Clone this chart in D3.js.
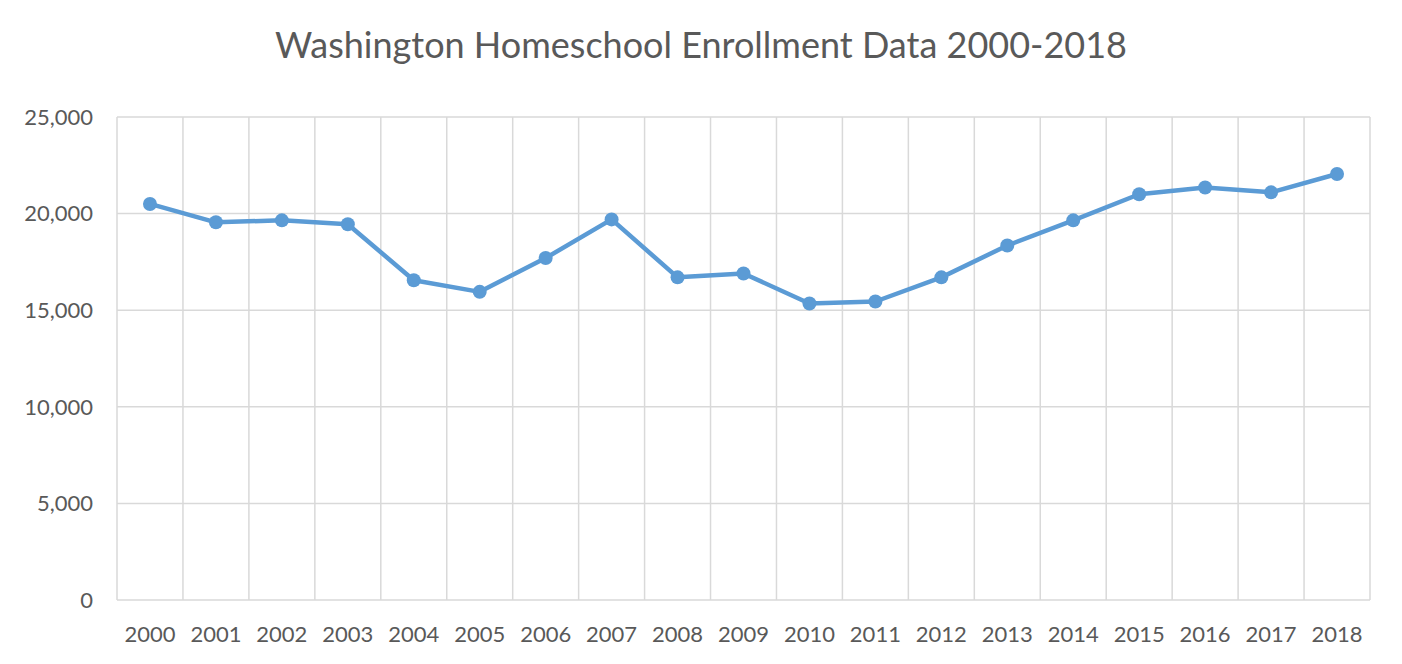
<!DOCTYPE html>
<html>
<head>
<meta charset="utf-8">
<script src="https://cdn.jsdelivr.net/npm/d3@7"></script>
<style>
  body { margin: 0; background: #fff; }
  text { font-family: Lato, "Open Sans", sans-serif; fill: #595959; }
</style>
</head>
<body>
<svg id="chart" width="1402" height="664"></svg>
<script>
  var years = ['2000','2001','2002','2003','2004','2005','2006','2007','2008','2009',
               '2010','2011','2012','2013','2014','2015','2016','2017','2018'];
  var enrollment = [20500, 19550, 19650, 19450, 16550, 15950, 17700, 19700, 16700, 16900,
                    15350, 15450, 16700, 18350, 19650, 21000, 21350, 21100, 22050];
  var yTicks = [0, 5000, 10000, 15000, 20000, 25000];

  var svg = d3.select('#chart');
  var m = {left: 117, right: 32, top: 117, bottom: 64};
  var w = 1402 - m.left - m.right, h = 664 - m.top - m.bottom;

  var x = d3.scaleBand().domain(years).range([0, w]);
  var y = d3.scaleLinear().domain([0, 25000]).range([h, 0]);

  svg.append('text').attr('x', 701).attr('y', 58).attr('text-anchor', 'middle')
    .style('font-size', '36px').text('Washington Homeschool  Enrollment Data 2000-2018');

  var g = svg.append('g').attr('transform', 'translate(' + m.left + ',' + m.top + ')');

  // grid
  g.selectAll('.hg').data(yTicks).enter().append('line')
    .attr('x1', 0).attr('x2', w).attr('y1', y).attr('y2', y)
    .attr('stroke', '#d9d9d9').attr('stroke-width', 1.5);
  g.selectAll('.vg').data(years.concat(['end'])).enter().append('line')
    .attr('x1', function (d, i) { return i * x.bandwidth(); })
    .attr('x2', function (d, i) { return i * x.bandwidth(); })
    .attr('y1', 0).attr('y2', h)
    .attr('stroke', '#d9d9d9').attr('stroke-width', 1.5);

  // axes labels
  g.selectAll('.yl').data(yTicks).enter().append('text')
    .attr('x', -24).attr('y', y).attr('dy', '0.35em').attr('text-anchor', 'end')
    .style('font-size', '22px').text(d3.format(','));
  g.selectAll('.xl').data(years).enter().append('text')
    .attr('x', function (d) { return x(d) + x.bandwidth() / 2; })
    .attr('y', h + 42).attr('text-anchor', 'middle')
    .style('font-size', '22px').text(function (d) { return d; });

  var line = d3.line()
    .x(function (d, i) { return x(years[i]) + x.bandwidth() / 2; })
    .y(function (d) { return y(d); });

  g.append('path').datum(enrollment).attr('d', line)
    .attr('fill', 'none').attr('stroke', '#5b9bd5').attr('stroke-width', 4.5)
    .attr('stroke-linejoin', 'round');

  g.selectAll('.pt').data(enrollment).enter().append('circle')
    .attr('cx', function (d, i) { return x(years[i]) + x.bandwidth() / 2; })
    .attr('cy', y).attr('r', 7).attr('fill', '#5b9bd5');
</script>
</body>
</html>
